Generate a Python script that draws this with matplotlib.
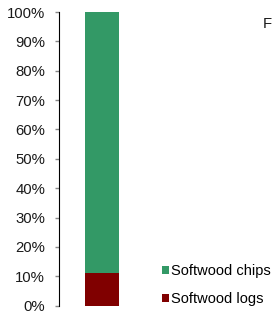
import numpy as np
import matplotlib
matplotlib.use("Agg")
import matplotlib.pyplot as plt
from matplotlib.ticker import PercentFormatter

plt.rcParams['font.family'] = ['Liberation Sans', 'DejaVu Sans']

categories = ['']
series_names = ['Softwood logs', 'Softwood chips']
series_values = [[11], [89]]
series_colors = ['#800000', '#339966']
y_ticks = [0, 10, 20, 30, 40, 50, 60, 70, 80, 90, 100]

fig = plt.figure(figsize=(2.72, 3.12), dpi=100)
ax = fig.add_axes([59/272, 1-305.7/312, 86/272, (305.7-12)/312])

x = np.arange(len(categories))
bottom = np.zeros(len(categories))
handles = []
for name, vals, col in zip(series_names, series_values, series_colors):
    h = ax.bar(x, vals, width=0.395, bottom=bottom, color=col, label=name)
    handles.append(h)
    bottom += np.array(vals)

ax.set_xlim(-0.5, 0.5)
ax.set_ylim(0, 100)
ax.set_yticks(y_ticks)
ax.yaxis.set_major_formatter(PercentFormatter(decimals=0))
ax.set_xticks([])
for s in ['top', 'right', 'bottom']:
    ax.spines[s].set_visible(False)
ax.spines['left'].set_color('black')
ax.tick_params(axis='y', length=3, width=1, color='#888888', labelsize=10.75,
               labelcolor='#1a1a1a', pad=7)

leg = fig.legend(handles[::-1], series_names[::-1], loc='lower left',
                 bbox_to_anchor=(162/272, 6/312), frameon=False,
                 borderaxespad=0, borderpad=0,
                 fontsize=10.5, handlelength=0.45, handleheight=0.45,
                 handletextpad=0.2, labelspacing=0.95)

fig.text(263/272, 1-28/312, 'F', fontsize=10.75, color='#1a1a1a')

fig.savefig('out.png', dpi=100)
